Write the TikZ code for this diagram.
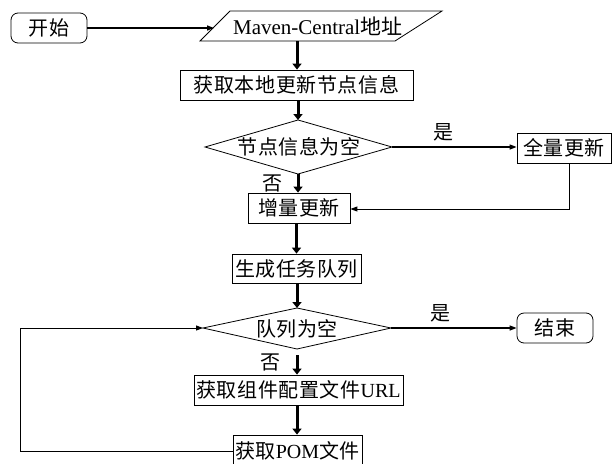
\documentclass[tikz,border=0pt]{standalone}
\usepackage{fontspec}
\setmainfont{Liberation Serif}
\newfontfamily\cjk[LetterSpace=3]{Noto Sans CJK SC}
\usetikzlibrary{arrows.meta}
\tikzset{
  fnt/.style={font=\fontsize{20}{20}\selectfont},
  box/.style={draw, line width=0.8pt, rectangle, inner sep=0pt, fnt},
  term/.style={box, rounded corners=7pt},
  txt/.style={inner sep=0pt, fnt},
  outline/.style={draw, line width=0.8pt, line join=miter},
  flow/.style={line width=3pt, -{Triangle[length=6pt,width=9pt]}},
  thinflow/.style={line width=1.3pt, -{Triangle[length=7pt,width=5pt]}},
}
\begin{document}
\begin{tikzpicture}[x=1pt,y=-1pt]
\useasboundingbox (0,0) rectangle (612,463);
% terminals and boxes
\node[term, minimum width=76pt, minimum height=30pt] (start) at (49,28) {\cjk 开始};
\node[txt, font=\fontsize{21}{21}\selectfont] (maven) at (318,26) {Maven-Central{\cjk 地址}};
\coordinate (mavBL) at (200,41);
\coordinate (mavTL) at (230,11);
\coordinate (mavTR) at (442,11);
\coordinate (mavBR) at (395,41);
\path[outline] (mavBL) -- (mavTL) -- (mavTR) -- (mavBR) -- cycle;
\coordinate (mavL) at (214,28);
\coordinate (mavB) at (297,41);
\node[box, minimum width=233pt, minimum height=30pt] (b1) at (296.5,85) {\cjk 获取本地更新节点信息};
% decision 1
\coordinate (d1t) at (298,120);
\coordinate (d1r) at (392,147);
\coordinate (d1b) at (298,174);
\coordinate (d1l) at (205,147);
\path[outline] (d1t) -- (d1r) -- (d1b) -- (d1l) -- cycle;
\node[txt] (d1) at (299,147) {\cjk 节点信息为空};
\node[box, minimum width=94pt, minimum height=30pt] (full) at (564,148) {\cjk 全量更新};
\node[box, minimum width=102pt, minimum height=30pt] (inc) at (299,208) {\cjk 增量更新};
\node[box, minimum width=129pt, minimum height=29pt] (gen) at (296.5,268.5) {\cjk 生成任务队列};
% decision 2
\coordinate (d2t) at (297,308);
\coordinate (d2r) at (391,328);
\coordinate (d2b) at (297,349);
\coordinate (d2l) at (203,328);
\path[outline] (d2t) -- (d2r) -- (d2b) -- (d2l) -- cycle;
\node[txt] (d2) at (297,329) {\cjk 队列为空};
\coordinate (d2gap) at (297,355);
\node[term, minimum width=76pt, minimum height=30pt] (end) at (555,328) {\cjk 结束};
\node[box, minimum width=209pt, minimum height=30pt] (url) at (298.5,390) {{\cjk 获取组件配置文件}URL};
\node[box, minimum width=129pt, minimum height=32pt] (pom) at (297.5,451) {{\cjk 获取}POM{\cjk 文件}};
\coordinate (loopc) at (20,451);
% labels
\node[txt] (yes1) at (443,132) {\cjk 是};
\node[txt] (no1) at (272,183) {\cjk 否};
\node[txt] (yes2) at (440,313) {\cjk 是};
\node[txt] (no2) at (270,362) {\cjk 否};
% connectors
\draw[thinflow] (start.east) -- (mavL);
\draw[flow] (mavB) -- (mavB |- b1.north);
\draw[flow] (b1.south -| d1t) -- (d1t);
\draw[thinflow] (d1r) -- (d1r -| full.west);
\draw[flow] (d1b) -- (d1b |- inc.north);
\draw[thinflow, line width=1pt] ([xshift=5pt]full.south) |- ([yshift=-1pt]inc.east);
\draw[flow] (inc.south -| gen.north) -- (gen.north);
\draw[flow] (gen.south -| d2t) -- (d2t);
\draw[thinflow] (d2r) -- (d2r -| end.west);
\draw[flow] (d2gap) -- (d2gap |- url.north);
\draw[flow] (url.south -| d2gap) -- (d2gap |- pom.north);
\draw[thinflow, line width=1pt] (pom.west) -- (loopc) |- (d2l);
\end{tikzpicture}
\end{document}
